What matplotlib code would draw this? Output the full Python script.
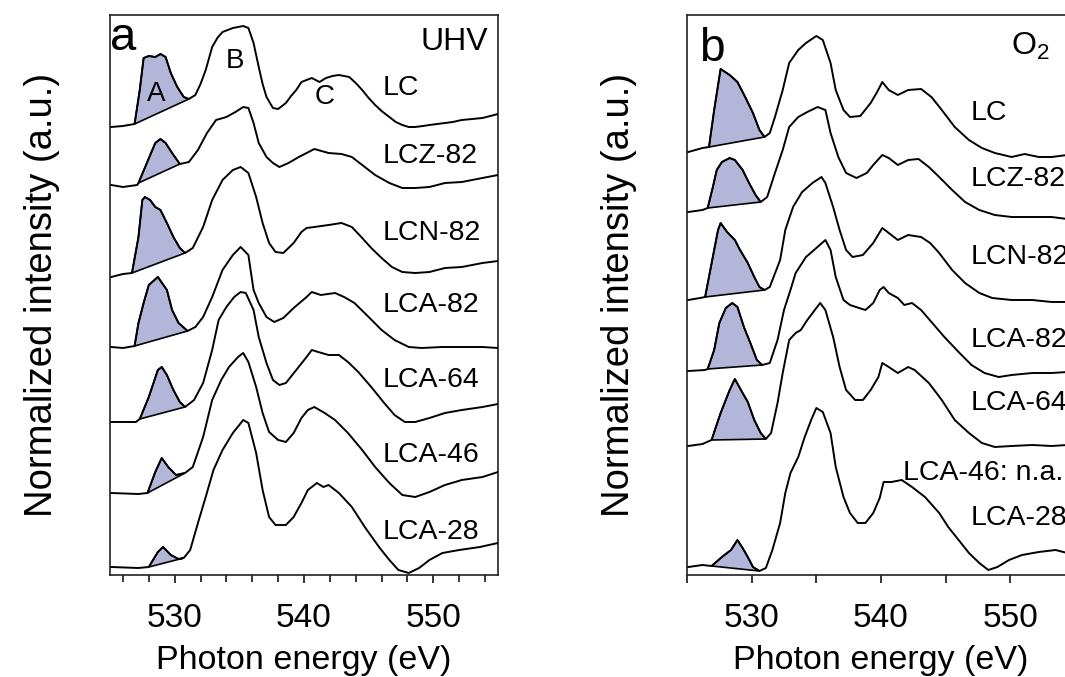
import numpy as np
import matplotlib
matplotlib.use("Agg")
import matplotlib.pyplot as plt

plt.rcParams['font.family'] = ['Liberation Sans', 'DejaVu Sans']
plt.rcParams['mathtext.fontset'] = 'custom'
plt.rcParams['mathtext.rm'] = 'Liberation Sans'

# ---- panel a (UHV) : photon energy (eV) and stacked intensity (a.u.) ----
a_lc_e = [525.1, 526.0, 526.9, 527.3, 527.6, 528.0, 528.5, 528.9, 529.3, 529.7, 530.2, 530.7, 531.1,
          531.6, 532.0, 532.4, 532.9, 533.3, 533.7, 534.1, 534.5, 534.9, 535.3, 535.7, 536.1, 536.5,
          536.8, 537.1, 537.6, 538.0, 538.6, 539.0, 539.4, 539.8, 540.2, 540.6, 541.2, 541.7, 542.2,
          542.7, 543.1, 543.5, 544.0, 544.5, 545.0, 545.5, 546.0, 546.6, 547.1, 547.6, 548.1, 548.6,
          549.2, 549.7, 550.3, 550.9, 551.5, 552.2, 553.0, 553.8, 554.4, 555.0]
a_lc_i = [448, 449, 451, 485, 517, 519, 518, 521, 518, 502, 488, 478, 476,
          480, 491, 505, 528, 537, 543, 545, 547, 548, 549, 547, 532, 508,
          491, 478, 467, 466, 472, 479, 485, 493, 495, 497, 493, 497, 499,
          500, 499, 498, 492, 485, 477, 470, 464, 458, 453, 450, 448, 448,
          449, 450, 451, 452, 453, 455, 456, 457, 459, 461]

a_lcz_e = [525.1, 526.0, 527.1, 527.2, 528.5, 528.9, 529.3, 529.8, 530.4, 531.1, 531.8, 532.5, 533.2,
           534.0, 534.7, 535.3, 535.7, 536.1, 536.5, 537.1, 537.6, 538.1, 538.8, 539.6, 540.2, 540.8,
           541.9, 542.9, 543.7, 544.5, 545.5, 546.6, 547.6, 548.6, 549.7, 550.9, 552.2, 553.8, 555.0]
a_lcz_i = [390, 388, 390, 392, 432, 436, 432, 422, 411, 413, 425, 442, 455,
           458, 463, 468, 467, 452, 432, 418, 412, 408, 412, 418, 422, 426,
           422, 421, 418, 410, 400, 392, 387, 387, 388, 392, 393, 397, 400]

a_lcn_e = [525.1, 526.0, 526.7, 527.2, 527.5, 527.7, 528.1, 528.5, 528.9, 529.4, 529.9, 530.4, 530.8,
           531.4, 532.2, 532.9, 533.7, 534.5, 535.1, 535.7, 536.3, 536.8, 537.3, 537.8, 538.4, 539.2,
           539.8, 540.2, 540.8, 541.9, 542.9, 543.7, 544.5, 545.2, 546.0, 546.8, 547.6, 548.6, 549.7,
           550.9, 552.2, 553.8, 555.0]
a_lcn_i = [298, 301, 302, 338, 375, 378, 375, 368, 365, 352, 338, 327, 322,
           327, 348, 375, 395, 405, 408, 402, 378, 352, 332, 323, 322, 332,
           343, 347, 348, 350, 352, 348, 337, 327, 317, 308, 303, 302, 303,
           307, 308, 312, 314]

a_lca82_e = [525.1, 526.0, 526.9, 527.2, 527.6, 528.0, 528.7, 529.4, 529.8, 530.3, 531.0, 531.6, 532.2,
             532.9, 533.7, 534.5, 535.1, 535.7, 536.1, 536.5, 537.1, 537.7, 538.4, 539.2, 540.2, 540.6,
             541.3, 542.4, 543.1, 543.9, 545.0, 546.0, 547.0, 548.1, 549.1, 550.7, 552.2, 553.8, 555.0]
a_lca82_i = [228, 227, 229, 252, 272, 290, 298, 285, 265, 252, 244, 248, 258,
             278, 305, 320, 328, 320, 285, 272, 258, 253, 257, 267, 278, 283,
             280, 282, 278, 272, 258, 245, 235, 228, 227, 228, 228, 228, 227]

a_lca64_e = [525.1, 527.0, 527.3, 528.0, 528.7, 529.0, 529.4, 529.9, 530.4, 530.8, 531.5, 532.2, 532.9,
             533.4, 534.0, 534.6, 535.1, 535.5, 536.1, 536.5, 537.1, 537.6, 538.1, 538.6, 539.4, 540.2,
             540.6, 541.1, 541.9, 542.7, 543.4, 544.2, 545.2, 546.2, 547.0, 547.8, 548.6, 549.7, 550.9,
             552.2, 553.8, 555.0]
a_lca64_i = [153, 153, 156, 178, 205, 208, 200, 185, 173, 168, 175, 192, 225,
             255, 268, 278, 283, 282, 265, 238, 212, 195, 190, 192, 205, 218,
             225, 223, 220, 220, 213, 203, 188, 172, 160, 153, 153, 157, 162,
             165, 168, 171]

a_lca46_e = [525.1, 527.2, 527.9, 528.5, 529.0, 529.5, 530.1, 530.8, 531.4, 532.2, 532.9, 533.6, 534.2,
             534.9, 535.3, 535.7, 536.3, 536.8, 537.3, 538.0, 538.6, 539.2, 539.8, 540.3, 540.8, 541.6,
             542.4, 543.4, 544.5, 545.5, 546.6, 547.6, 548.6, 549.7, 550.9, 552.2, 553.8, 555.0]
a_lca46_i = [82, 81, 82, 103, 117, 108, 100, 102, 108, 138, 175, 195, 208,
             218, 222, 213, 188, 162, 143, 135, 133, 142, 157, 165, 168, 162,
             155, 142, 125, 108, 92, 80, 78, 83, 90, 95, 98, 103]

a_lca28_e = [525.1, 527.2, 528.0, 528.7, 529.1, 529.7, 530.3, 530.7, 531.2, 531.8, 532.4, 533.0, 533.7,
             534.5, 535.3, 535.7, 536.3, 536.8, 537.3, 537.8, 538.6, 539.2, 539.8, 540.3, 541.0, 541.5,
             541.9, 542.7, 543.7, 544.7, 545.8, 546.6, 547.3, 548.1, 548.9, 549.7, 550.7, 552.0, 553.6,
             555.0]
a_lca28_i = [8, 7, 8, 23, 28, 20, 16, 17, 25, 52, 78, 105, 125,
             142, 155, 152, 122, 85, 58, 50, 50, 58, 72, 85, 92, 88,
             90, 82, 68, 48, 28, 15, 5, 2, 7, 15, 22, 25, 28,
             32]

# ---- panel b (O2) ----
b_lc_e = [525.1, 526.2, 526.7, 527.1, 527.5, 527.6, 528.3, 528.9, 529.5, 530.1, 530.6, 531.0, 531.4,
          531.8, 532.4, 532.9, 533.6, 534.2, 535.0, 535.5, 536.1, 536.5, 537.1, 537.6, 538.4, 539.2,
          539.7, 540.1, 540.6, 541.3, 542.1, 543.1, 543.9, 544.7, 545.7, 546.8, 547.8, 548.8, 550.1,
          551.1, 552.2, 553.2, 554.4, 555.0]
b_lc_i = [423, 427, 428, 465, 498, 506, 500, 493, 478, 462, 445, 438, 442,
          458, 485, 512, 525, 532, 539, 535, 512, 485, 465, 458, 459, 472,
          483, 493, 485, 480, 485, 486, 478, 465, 448, 435, 427, 422, 418,
          421, 418, 418, 420, 421]

b_lcz_e = [525.1, 526.2, 526.6, 527.0, 527.3, 527.7, 528.3, 528.7, 529.3, 529.8, 530.3, 530.7, 531.2,
           531.8, 532.4, 532.9, 533.6, 534.3, 535.1, 535.7, 536.1, 536.7, 537.3, 538.1, 538.9, 539.4,
           540.1, 540.6, 541.3, 542.1, 542.9, 543.7, 544.5, 545.5, 546.5, 547.6, 548.8, 550.1, 551.7,
           553.2, 554.4, 555.0]
b_lcz_i = [363, 365, 367, 388, 405, 413, 417, 415, 405, 392, 380, 373, 378,
           402, 425, 448, 458, 463, 468, 465, 442, 418, 402, 397, 402, 410,
           420, 417, 410, 415, 416, 408, 398, 385, 373, 365, 360, 358, 358,
           358, 356, 356]

b_lcn_e = [525.1, 526.0, 526.4, 527.1, 527.4, 527.6, 528.1, 528.7, 529.1, 529.7, 530.2, 530.6, 531.0,
           531.4, 532.2, 532.6, 533.2, 533.9, 534.7, 535.4, 535.7, 536.3, 536.8, 537.3, 537.8, 538.6,
           539.4, 540.1, 540.6, 541.3, 542.1, 543.1, 543.8, 544.5, 545.5, 546.5, 547.6, 548.6, 550.1,
           551.7, 553.2, 554.4, 555.0]
b_lcn_i = [275, 277, 278, 325, 345, 352, 343, 335, 325, 312, 298, 288, 285,
           288, 315, 345, 368, 383, 392, 398, 392, 368, 345, 325, 318, 320,
           332, 347, 342, 335, 340, 338, 332, 322, 305, 292, 282, 277, 275,
           275, 273, 273, 273]

b_lca82_e = [525.1, 526.4, 526.6, 527.1, 527.5, 528.0, 528.5, 528.9, 529.4, 529.9, 530.4, 530.8, 531.4,
             532.0, 532.5, 533.0, 533.4, 534.2, 535.0, 535.7, 536.1, 536.5, 537.1, 537.6, 538.3, 538.8,
             539.4, 539.9, 540.2, 540.6, 541.3, 541.8, 542.4, 543.1, 543.9, 544.9, 546.0, 547.0, 548.0,
             549.1, 550.1, 551.7, 553.2, 554.4, 555.0]
b_lca82_i = [204, 205, 206, 225, 252, 267, 272, 268, 248, 232, 215, 210, 212,
             235, 265, 285, 302, 318, 327, 335, 325, 298, 275, 270, 267, 265,
             272, 285, 288, 282, 277, 270, 272, 265, 253, 238, 223, 210, 202,
             198, 200, 202, 202, 203, 203]

b_lca64_e = [525.1, 526.2, 526.9, 527.6, 528.3, 528.7, 529.3, 529.7, 530.2, 530.7, 531.1, 531.5, 532.0,
             532.4, 532.9, 533.4, 533.8, 534.3, 535.0, 535.3, 535.7, 536.3, 536.8, 537.3, 538.0, 538.6,
             539.2, 539.8, 540.1, 540.6, 541.3, 542.1, 542.6, 543.7, 544.7, 545.7, 546.8, 547.8, 548.8,
             550.1, 551.7, 553.2, 554.4, 555.0]
b_lca64_i = [129, 131, 135, 162, 185, 196, 182, 173, 155, 142, 136, 142, 172,
             202, 235, 242, 245, 255, 267, 272, 265, 238, 208, 185, 175, 175,
             185, 198, 212, 208, 202, 208, 205, 192, 175, 155, 142, 132, 128,
             129, 130, 129, 130, 130]

b_lca28_e = [525.1, 526.2, 526.9, 527.7, 528.4, 528.9, 529.3, 529.7, 530.1, 530.6, 531.1, 531.6, 532.2,
             532.6, 533.0, 533.6, 534.1, 534.6, 535.0, 535.5, 536.1, 536.5, 537.1, 537.6, 538.2, 538.8,
             539.4, 539.9, 540.2, 540.8, 541.6, 542.4, 543.4, 544.5, 545.2, 546.0, 546.8, 547.6, 548.3,
             549.0, 549.9, 550.9, 552.2, 553.5, 554.4, 555.0]
b_lca28_i = [8, 10, 9, 18, 25, 35, 27, 18, 8, 4, 7, 25, 52,
             82, 102, 118, 138, 155, 167, 163, 142, 108, 78, 62, 52, 52,
             62, 77, 93, 93, 95, 88, 78, 62, 48, 35, 22, 12, 5,
             8, 15, 20, 23, 25, 22, 23]

a_names = ['LC', 'LCZ-82', 'LCN-82', 'LCA-82', 'LCA-64', 'LCA-46', 'LCA-28']
b_names = ['LC', 'LCZ-82', 'LCN-82', 'LCA-82', 'LCA-64', 'LCA-28']
# pre-edge peak A window (eV) for each spectrum
a_peak_a = [(526.9, 531.1), (527.2, 530.4), (526.7, 530.8), (526.9, 531.0),
            (527.3, 530.8), (527.9, 530.8), (528.0, 530.7)]
b_peak_a = [(526.7, 531.0), (526.6, 530.7), (526.4, 531.0), (526.6, 530.8),
            (526.9, 531.1), (526.9, 530.6)]

a_curves = [(a_lc_e, a_lc_i), (a_lcz_e, a_lcz_i), (a_lcn_e, a_lcn_i), (a_lca82_e, a_lca82_i),
            (a_lca64_e, a_lca64_i), (a_lca46_e, a_lca46_i), (a_lca28_e, a_lca28_i)]
b_curves = [(b_lc_e, b_lc_i), (b_lcz_e, b_lcz_i), (b_lcn_e, b_lcn_i), (b_lca82_e, b_lca82_i),
            (b_lca64_e, b_lca64_i), (b_lca28_e, b_lca28_i)]

# label positions (eV, a.u.)
a_label_pos = [(546.1, 487), (546.1, 419), (546.1, 342), (546.1, 270), (546.1, 195), (546.1, 120), (546.1, 43)]
b_label_pos = [(546.9, 462), (546.9, 396), (546.9, 318), (546.9, 235), (546.9, 172), (546.9, 57)]

fill_col = '#b4b6d9'
W, H = 1065, 677
fig = plt.figure(figsize=(W / 100, H / 100), dpi=100)
ax_a = fig.add_axes([110 / W, (H - 575) / H, 388 / W, 560 / H])
ax_b = fig.add_axes([687 / W, (H - 575) / H, 388 / W, 560 / H])


def draw(ax, curves, windows):
    for (e, i), (e0, e1) in zip(curves, windows):
        e = np.array(e)
        i = np.array(i)
        ax.plot(e, i, color='black', lw=1.4, zorder=3)
        m = (e >= e0 - 1e-6) & (e <= e1 + 1e-6)
        ax.fill(e[m], i[m], facecolor=fill_col, edgecolor='black', lw=1.2, zorder=2)


draw(ax_a, a_curves, a_peak_a)
draw(ax_b, b_curves, b_peak_a)

for ax in (ax_a, ax_b):
    ax.set_xlim(525, 555)
    ax.set_ylim(0, 560)
    ax.set_yticks([])
    ax.set_xticks([530, 540, 550])
    ax.tick_params(axis='x', direction='out', length=6, width=1.1, labelsize=24, pad=14)
    ax.tick_params(axis='x', which='minor', direction='out', length=5, width=1.1)
    for s in ax.spines.values():
        s.set_linewidth(1.2)
        s.set_color('#222222')
    ax.set_xlabel('Photon energy (eV)', fontsize=24.5, labelpad=8)
    ax.set_ylabel('Normalized intensity (a.u.)', fontsize=27.5, labelpad=36)

ax_a.set_xticks(np.arange(526, 556, 2), minor=True)
ax_b.set_xticks([525, 535, 545, 555], minor=True)
ax_b.tick_params(axis='x', which='minor', length=6)

for name, (x, y) in zip(a_names, a_label_pos):
    ax_a.text(x, y, name, fontsize=20.5, va='center', ha='left')
for name, (x, y) in zip(b_names, b_label_pos):
    ax_b.text(x, y, name, fontsize=20.5, va='center', ha='left')
ax_b.text(541.7, 102, 'LCA-46: n.a.', fontsize=20.5, va='center', ha='left')

ax_a.text(528.6, 481, 'A', fontsize=20, ha='center', va='center')
ax_a.text(534.7, 514, 'B', fontsize=20, ha='center', va='center')
ax_a.text(541.6, 478, 'C', fontsize=20, ha='center', va='center')

ax_a.text(0.0, 0.9375, 'a', transform=ax_a.transAxes, fontsize=34, ha='left', va='baseline')
ax_b.text(0.031, 0.918, 'b', transform=ax_b.transAxes, fontsize=33, ha='left', va='baseline')
ax_a.text(0.974, 0.9375, 'UHV', transform=ax_a.transAxes, fontsize=23, ha='right', va='baseline')
ax_b.text(0.836, 0.9286, r'O$_\mathregular{2}$', transform=ax_b.transAxes, fontsize=23, ha='left', va='baseline')

fig.savefig('out.png', dpi=100)
